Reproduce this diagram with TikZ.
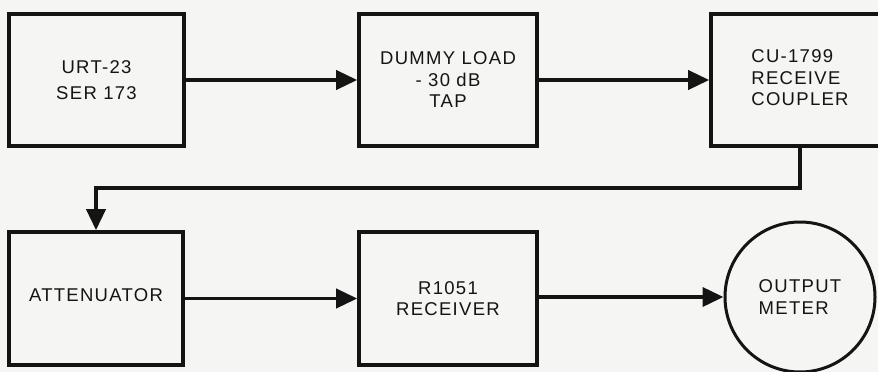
\documentclass[tikz,border=0pt]{standalone}
\usepackage{fontspec}
\setmainfont[LetterSpace=7]{Liberation Sans}
\usetikzlibrary{arrows.meta,shapes.geometric}
\definecolor{paper}{RGB}{245,245,243}
\definecolor{ink}{RGB}{20,20,20}
\begin{document}
\begin{tikzpicture}[x=1pt,y=-1pt,
  blk/.style={draw=ink,line width=3.6pt,rectangle,minimum width=175pt,minimum height=132pt,
    align=center,inner sep=0pt,font=\fontsize{18.5}{21.5}\selectfont,text=ink},
  meter/.style={draw=ink,line width=3pt,circle,minimum size=150pt,align=left,inner sep=0pt,
    font=\fontsize{18.5}{21.5}\selectfont,text=ink},
  conn/.style={draw=ink,line width=3.8pt,-{Triangle[length=21pt,width=19pt]}}]
\useasboundingbox (0,0) rectangle (878,372);
\fill[paper] (0,0) rectangle (878,372);
\clip (0,0) rectangle (878,372);
\node[blk] (urt) at (96.5,80) {URT-23\\[4.5pt]SER 173};
\node[blk,minimum width=178pt] (dummy) at (448,80) {DUMMY LOAD\\- 30 dB\\TAP};
\node[blk,minimum width=178pt] (cu) at (800,80)
  {\raisebox{5pt}{\begin{tabular}{@{}l@{}}CU-1799\\RECEIVE\\COUPLER\end{tabular}}};
\node[blk,minimum width=174pt,minimum height=133pt] (att) at (96,298.5) {\raisebox{6pt}{ATTENUATOR}};
\node[blk,minimum width=178pt,minimum height=133pt] (rx) at (448,298.5) {R1051\\RECEIVER};
\node[meter] (out) at (800,297) {OUTPUT\\METER};
\coordinate (turn) at (cu.south |- 0,188);
\draw[conn] (urt.east) -- (dummy.west);
\draw[conn] (dummy.east) -- (cu.west);
\draw[conn] (cu.south) -- (turn) -| (att.north);
\draw[conn] (att.east) -- (rx.west);
\draw[conn] (rx.east |- out.west) -- (out.west);
\end{tikzpicture}
\end{document}
